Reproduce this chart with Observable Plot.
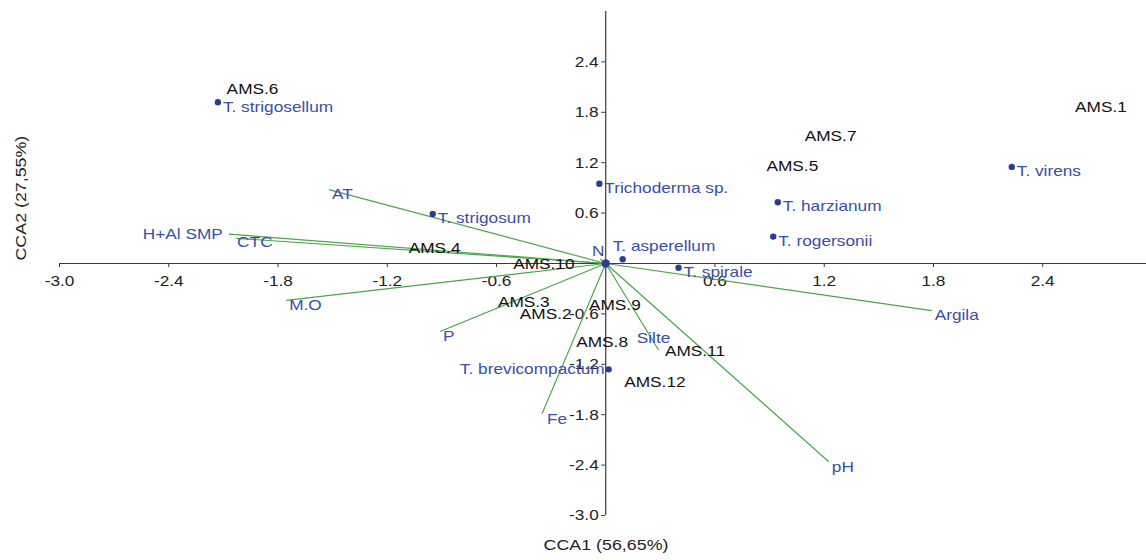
<!DOCTYPE html>
<html>
<head>
<meta charset="utf-8">
<script src="https://cdn.jsdelivr.net/npm/d3@7"></script>
<script src="https://cdn.jsdelivr.net/npm/@observablehq/plot@0.6"></script>
<style>
  html, body { margin: 0; padding: 0; background: #ffffff; }
  #chart svg { display: block; }
</style>
</head>
<body>
<div id="chart"></div>
<script>
// ---------- data ----------
const sampleNames = ["AMS.1","AMS.2","AMS.3","AMS.4","AMS.5","AMS.6","AMS.7","AMS.8","AMS.9","AMS.10","AMS.11","AMS.12"];
const sampleX     = [2.72, -0.33, -0.45, -0.94, 1.025, -1.94, 1.235, -0.02, 0.05, -0.34, 0.49, 0.27];
const sampleY     = [1.86, -0.60, -0.46, 0.18, 1.155, 2.07, 1.52, -0.94, -0.50, -0.01, -1.04, -1.41];

const speciesNames = ["T. strigosellum","Trichoderma sp.","T. strigosum","T. asperellum","T. spirale","T. brevicompactum","T. harzianum","T. rogersonii","T. virens"];
const speciesX     = [-2.13, -0.035, -0.95, 0.093, 0.40, 0.016, 0.945, 0.92, 2.23];
const speciesY     = [1.92, 0.95, 0.59, 0.05, -0.05, -1.26, 0.73, 0.32, 1.15];

const envNames = ["AT","H+Al SMP","CTC","M.O","P","Fe","Silte","pH","Argila","N"];
const envX     = [-1.52, -2.07, -2.03, -1.755, -0.91, -0.35, 0.29, 1.225, 1.79, -0.03];
const envY     = [0.88, 0.35, 0.30, -0.44, -0.81, -1.79, -1.03, -2.36, -0.56, 0.05];

const centroid = [{x: 0, y: 0}];

const xTicks = [-3.0, -2.4, -1.8, -1.2, -0.6, 0.6, 1.2, 1.8, 2.4];
const yTicks = [-3.0, -2.4, -1.8, -1.2, -0.6, 0.6, 1.2, 1.8, 2.4];
const xTitle = "CCA1 (56,65%)";
const yTitle = "CCA2 (27,55%)";
const xDomain = [-3.0, 2.97];
const yDomain = [-3.0, 3.0];

// ---------- tables ----------
const samples = sampleNames.map((name, i) => ({name, x: sampleX[i], y: sampleY[i]}));
const species = speciesNames.map((name, i) => ({name, x: speciesX[i], y: speciesY[i]}));
const env = envNames.map((name, i) => ({name, x: envX[i], y: envY[i]}));

// ---------- layout / style ----------
const W = 1146, H = 560;
const mTop = 11, mBottom = 45, mLeft = 59, mRight = 0;
const pxPerY = (H - mTop - mBottom) / (yDomain[1] - yDomain[0]);
const pxPerX = (W - mLeft - mRight) / (xDomain[1] - xDomain[0]);
const tickLenY = 4 / pxPerY;
const tickLenX = 4 / pxPerX;

const BLUE_TEXT = "#3a4ea6";
const BLUE_DOT = "#2c3c92";
const GREEN = "#4aa64a";
const AXIS = "#3a3a3a";
const FONT = "Liberation Sans, Arial, Helvetica, sans-serif";

// label placement nudges (pixels)
const envNudge = {
  "H+Al SMP": {a: "end", dx: -6, dy: 0},
  "CTC": {a: "start", dx: 1, dy: 4},
  "Silte": {a: "middle", dx: -5, dy: -12},
  "N": {a: "middle", dx: -2, dy: -8},
  "Fe": {a: "start", dx: 5, dy: 5}
};
const envDefault = {a: "start", dx: 3, dy: 5};
const spNudge = {
  "T. brevicompactum": {a: "end", dx: -4, dy: 0},
  "T. asperellum": {a: "start", dx: -10, dy: -13}
};
const spDefault = {a: "start", dx: 5, dy: 4.5};

function labelMarks(data, nudges, def, fill) {
  const groups = {};
  data.forEach(d => {
    const n = nudges[d.name] || def;
    const key = n.a + "|" + n.dx + "|" + n.dy;
    (groups[key] = groups[key] || {n, rows: []}).rows.push(d);
  });
  return Object.values(groups).map(g =>
    Plot.text(g.rows, {x: "x", y: "y", text: "name", textAnchor: g.n.a, dx: g.n.dx, dy: g.n.dy,
      fill, fontSize: 15})
  );
}

const fmt = d => d.toFixed(1);

const chart = Plot.plot({
  width: W,
  height: H,
  marginTop: mTop,
  marginBottom: mBottom,
  marginLeft: mLeft,
  marginRight: mRight,
  style: {fontFamily: FONT, background: "#ffffff", overflow: "visible"},
  x: {domain: xDomain, axis: null},
  y: {domain: yDomain, axis: null},
  marks: [
    // axes through the origin
    Plot.ruleY([0], {x1: xDomain[0], x2: xDomain[1], stroke: AXIS, strokeWidth: 1.2}),
    Plot.ruleX([0], {y1: yDomain[0], y2: yDomain[1], stroke: AXIS, strokeWidth: 1.2}),
    Plot.ruleX(xTicks, {x: d => d, y1: 0, y2: -tickLenY, stroke: AXIS, strokeWidth: 1}),
    Plot.ruleY(yTicks, {y: d => d, x1: -tickLenX, x2: 0, stroke: AXIS, strokeWidth: 1}),
    Plot.text(xTicks, {x: d => d, y: 0, text: fmt, dy: 18, fill: "#222", fontSize: 15}),
    Plot.text(yTicks, {x: 0, y: d => d, text: fmt, dx: -7, textAnchor: "end", fill: "#222", fontSize: 15}),
    // environmental vectors
    Plot.link(env, {x1: 0, y1: 0, x2: "x", y2: "y", stroke: GREEN, strokeWidth: 1.2}),
    // species points
    Plot.dot(species, {x: "x", y: "y", r: 3.2, fill: BLUE_DOT}),
    Plot.dot(centroid, {x: "x", y: "y", r: 4.2, fill: BLUE_DOT}),
    // labels
    ...labelMarks(env, envNudge, envDefault, BLUE_TEXT),
    ...labelMarks(species, spNudge, spDefault, BLUE_TEXT),
    Plot.text(samples, {x: "x", y: "y", text: "name", fill: "#111", fontSize: 15}),
    // axis titles
    Plot.text([xTitle], {frameAnchor: "bottom", text: d => d, dy: 34, dx: 3, fill: "#222", fontSize: 15.5}),
    Plot.text([yTitle], {frameAnchor: "left", text: d => d, dx: -38, dy: -3, rotate: -90, fill: "#222", fontSize: 15.5})
  ]
});

document.getElementById("chart").appendChild(chart);

// slightly widen glyphs to match the reference's horizontally stretched lettering
const STRETCH = 1.15;
const svg = chart.tagName.toLowerCase() === "svg" ? chart : chart.querySelector("svg");
svg.querySelectorAll("text").forEach(t => {
  const w = t.getComputedTextLength();
  if (w > 0) {
    t.setAttribute("textLength", (w * STRETCH).toFixed(1));
    t.setAttribute("lengthAdjust", "spacingAndGlyphs");
  }
});
</script>
</body>
</html>
